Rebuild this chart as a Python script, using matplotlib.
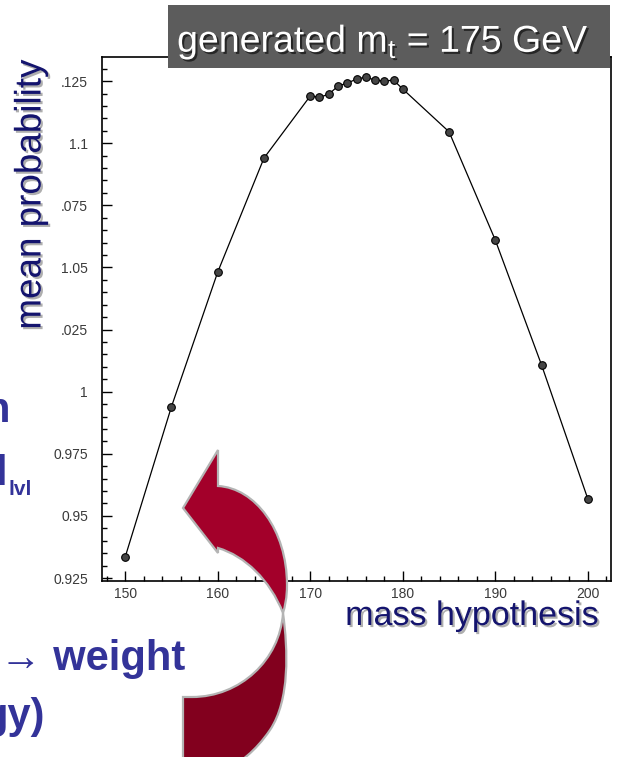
import numpy as np
import matplotlib.pyplot as plt
import matplotlib.patheffects as pe
from matplotlib.path import Path
from matplotlib.patches import PathPatch, Rectangle
from matplotlib.transforms import Affine2D
from matplotlib.ticker import MultipleLocator, FixedLocator, FixedFormatter

plt.rcParams['font.family'] = ['Liberation Sans', 'DejaVu Sans']

# data
mass = [150, 155, 160, 165, 170, 171, 172, 173, 174, 175, 176, 177, 178, 179, 180,
        185, 190, 195, 200]
prob = [0.9334, 0.9939, 1.0481, 1.0940, 1.1190, 1.1185, 1.1197, 1.1230, 1.1242,
        1.1258, 1.1266, 1.1254, 1.1250, 1.1254, 1.1218, 1.1046, 1.0610, 1.0107, 0.9568]
err = [0.0012] * len(mass)

ytick_vals = [0.925, 0.95, 0.975, 1.0, 1.025, 1.05, 1.075, 1.1, 1.125]
ytick_text = ['0.925', '0.95', '0.975', '1', '.025', '1.05', '.075', '1.1', '.125']
xtick_vals = [150, 160, 170, 180, 190, 200]

W, H = 617, 757
fig = plt.figure(figsize=(W / 100, H / 100), dpi=100)
# pixel coords (y down) -> figure
pix = Affine2D().scale(1 / W, -1 / H).translate(0, 1) + fig.transFigure

ax = fig.add_axes([102 / W, 1 - 581 / H, (611 - 102) / W, (581 - 57) / H])
ax.errorbar(mass, prob, yerr=err, fmt='o-', color='black', lw=0.9, ms=5.5,
            mfc='#454545', mec='black', mew=0.8, elinewidth=1.0, capsize=0)
ax.set_xlim(147.5, 202.5)
ax.set_ylim(0.9238, 1.1347)

ax.yaxis.set_major_locator(FixedLocator(ytick_vals))
ax.yaxis.set_major_formatter(FixedFormatter(ytick_text))
ax.yaxis.set_minor_locator(MultipleLocator(0.005))
ax.xaxis.set_major_locator(FixedLocator(xtick_vals))
ax.xaxis.set_minor_locator(MultipleLocator(2))
ax.tick_params(which='both', direction='in', top=False, right=False, width=1.0,
               labelsize=10, labelcolor='#3a3a3a')
ax.tick_params(which='major', length=7)
ax.tick_params(which='minor', length=3.6)
ax.tick_params(axis='y', pad=10)
ax.tick_params(axis='x', pad=4)
for s in ax.spines.values():
    s.set_linewidth(1.2)

shadow = [pe.withSimplePatchShadow(offset=(1.5, -1.5), shadow_rgbFace='#9a9a9a', alpha=0.8)]

# axis titles from the slide
fig.text(31 / W, 1 - 195 / H, 'mean probability', rotation=90, ha='center', va='center',
         fontsize=26.5, color='#14146e', path_effects=shadow)
fig.text(472 / W, 1 - 625 / H, 'mass hypothesis', ha='center', va='baseline',
         fontsize=24.5, color='#14146e', path_effects=shadow)

# grey title box
fig.add_artist(Rectangle((168, 5), 442, 63, transform=pix, facecolor='#5c5c5c',
                         edgecolor='none', zorder=2))
fig.text(383 / W, 1 - 52 / H, 'generated m$_\\mathregular{t}$ = 175 GeV', ha='center',
         va='baseline', fontsize=27, color='white', zorder=3,
         path_effects=[pe.withSimplePatchShadow(offset=(1.5, -1.5), shadow_rgbFace='#202020',
                                                alpha=0.9)])

# cut-off slide text on the left
blue = '#333399'
fig.text(10 / W, 1 - 422 / H, 'n', ha='right', va='baseline', fontsize=30,
         fontweight='bold', color=blue)
fig.text(7 / W, 1 - 485 / H, 'l', ha='right', va='baseline', fontsize=30,
         fontweight='bold', color=blue)
fig.text(8 / W, 1 - 495 / H, 'lvl', ha='left', va='baseline', fontsize=15,
         fontweight='bold', color=blue)
fig.text(185 / W, 1 - 670 / H, '\u2192 weight', ha='right', va='baseline', fontsize=30,
         fontweight='bold', color=blue)
fig.text(45 / W, 1 - 728 / H, 'gy)', ha='right', va='baseline', fontsize=30,
         fontweight='bold', color=blue)

# red curved arrow (two pieces)
M, L, C, Z = Path.MOVETO, Path.LINETO, Path.CURVE4, Path.CLOSEPOLY
upper = Path([(183, 508), (218, 450), (218, 486),
              (255, 488), (287, 530), (287, 585),
              (287, 598), (285, 606), (283, 613),
              (270, 580), (245, 556), (218, 548),
              (218, 553), (183, 508)],
             [M, L, L, C, C, C, C, C, C, C, C, C, L, Z])
lower = Path([(183, 697), (192, 697),
              (240, 697), (280, 660), (283, 613),
              (288, 650), (290, 700), (270, 730),
              (255, 752), (240, 762), (225, 772),
              (183, 772), (183, 697)],
             [M, L, C, C, C, C, C, C, C, C, C, L, Z])
fig.add_artist(PathPatch(lower, transform=pix, facecolor='#82001e', edgecolor='#b4b4b4',
                         lw=1.6, zorder=4))
fig.add_artist(PathPatch(upper, transform=pix, facecolor='#a3002a', edgecolor='#b4b4b4',
                         lw=1.6, zorder=4))

fig.savefig('out.png', dpi=100)
